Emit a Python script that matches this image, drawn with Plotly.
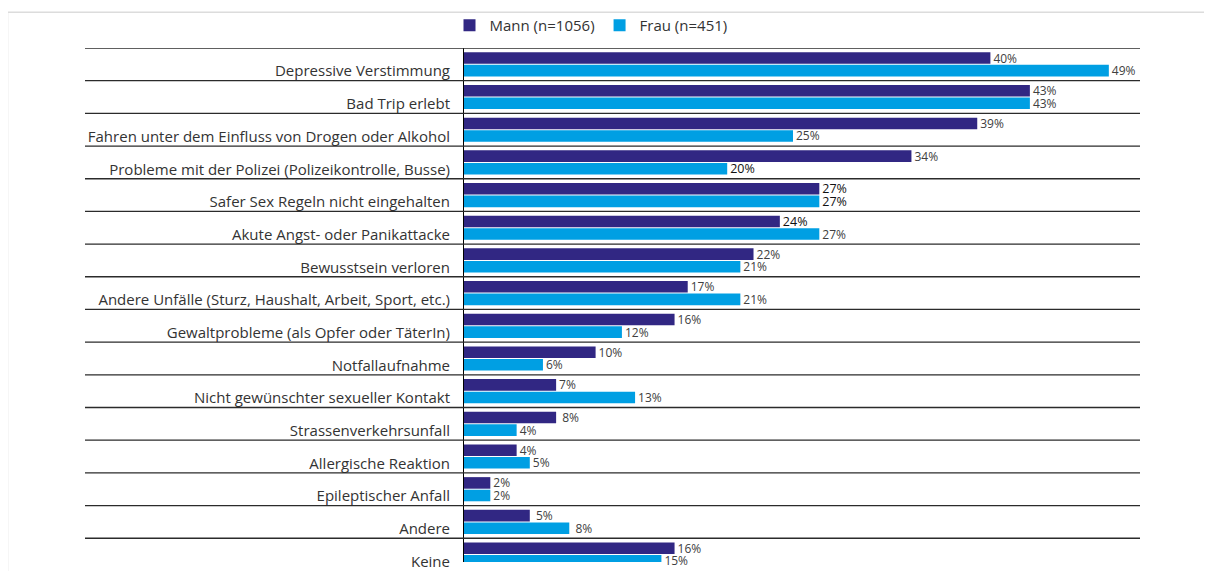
import plotly.graph_objects as go

categories = [
    "Depressive Verstimmung",
    "Bad Trip erlebt",
    "Fahren unter dem Einfluss von Drogen oder Alkohol",
    "Probleme mit der Polizei (Polizeikontrolle, Busse)",
    "Safer Sex Regeln nicht eingehalten",
    "Akute Angst- oder Panikattacke",
    "Bewusstsein verloren",
    "Andere Unfälle (Sturz, Haushalt, Arbeit, Sport, etc.)",
    "Gewaltprobleme (als Opfer oder TäterIn)",
    "Notfallaufnahme",
    "Nicht gewünschter sexueller Kontakt",
    "Strassenverkehrsunfall",
    "Allergische Reaktion",
    "Epileptischer Anfall",
    "Andere",
    "Keine",
]
mann = [40, 43, 39, 34, 27, 24, 22, 17, 16, 10, 7, 7, 4, 2, 5, 16]
frau = [49, 43, 25, 20, 27, 27, 21, 21, 12, 6, 13, 4, 5, 2, 8, 15]
mann_labels = ["40%", "43%", "39%", "34%", "27%", "24%", "22%", "17%", "16%",
               "10%", "7%", " 8%", "4%", "2%", " 5%", "16%"]
frau_labels = ["49%", "43%", "25%", "20%", "27%", "27%", "21%", "21%", "12%",
               "6%", "13%", "4%", "5%", "2%", " 8%", "15%"]
# labels drawn darker/larger in the reference
mann_dark = [False, False, False, False, True, True, False, False, False,
             False, False, False, False, False, False, False]
frau_dark = [False, False, False, True, True, False, False, False, False,
             False, False, False, False, False, False, False]
series_names = ["Mann (n=1056)", "Frau (n=451)"]

C_MANN = "#312783"
C_FRAU = "#009FE3"
FONT = "Open Sans"

# the page body adds an 8px offset; compensate
OFF = 8
W, H = 1212 - OFF, 571 - OFF
L, R, T, B = 464 - OFF, 72, 48 - OFF, 0
plot_w = W - L - R
plot_h = H - T - B

pos = list(range(len(categories)))


def tcolors(flags):
    return ["#111111" if f else "#404040" for f in flags]


def tsizes(flags):
    return [12.5 if f else 12 for f in flags]


fig = go.Figure()
fig.add_trace(go.Bar(
    y=pos, x=mann, orientation="h", name=series_names[0],
    marker=dict(color=C_MANN, line=dict(width=0)),
    text=mann_labels, textposition="outside", constraintext="none",
    cliponaxis=False,
    textfont=dict(family=FONT, size=tsizes(mann_dark), color=tcolors(mann_dark)),
    hoverinfo="x+name",
))
fig.add_trace(go.Bar(
    y=pos, x=frau, orientation="h", name=series_names[1],
    marker=dict(color=C_FRAU, line=dict(width=0)),
    text=frau_labels, textposition="outside", constraintext="none",
    cliponaxis=False,
    textfont=dict(family=FONT, size=tsizes(frau_dark), color=tcolors(frau_dark)),
    hoverinfo="x+name",
))

px_per_unit = 33.0
shapes = []
x0_sep = (85 - OFF - L) / plot_w
for i in range(len(categories) + 1):
    shapes.append(dict(type="line", xref="paper", yref="y",
                       x0=x0_sep, x1=1.0, y0=i - 0.5, y1=i - 0.5,
                       line=dict(color="#2b2b2b", width=1.3)))
# container frame (top and left)
fx0 = (7.5 - OFF - L) / plot_w
fx1 = (W - L) / plot_w
fy = (H - (11.5 - OFF) - B) / plot_h
shapes.append(dict(type="line", xref="paper", yref="paper",
                   x0=fx0, x1=fx1, y0=fy, y1=fy,
                   line=dict(color="#dcdcdc", width=1.5)))
shapes.append(dict(type="line", xref="paper", yref="paper",
                   x0=fx0, x1=fx0, y0=fy, y1=-0.02,
                   line=dict(color="#dcdcdc", width=1.5)))

y_bottom = -0.5 + (plot_h - 4) / px_per_unit
x_max = plot_w / 13.16

fig.update_layout(
    width=W, height=H,
    margin=dict(l=L, r=R, t=T, b=B, pad=0),
    paper_bgcolor="white", plot_bgcolor="white",
    barmode="group", bargap=0.23, bargroupgap=0.08,
    font=dict(family=FONT, color="#333333"),
    showlegend=True,
    legend=dict(orientation="h", x=(591 - OFF - L) / plot_w, xanchor="center",
                y=(H - (25 - OFF) - B) / plot_h, yanchor="middle",
                font=dict(family=FONT, size=15, color="#333333"),
                itemwidth=30, traceorder="normal", bgcolor="rgba(0,0,0,0)"),
    xaxis=dict(range=[0, x_max], showgrid=False, zeroline=False,
               showticklabels=False, showline=False, fixedrange=True),
    yaxis=dict(range=[y_bottom, -0.5], showgrid=False, zeroline=False,
               tickmode="array", tickvals=[p + 0.21 for p in pos],
               ticktext=categories, ticks="", ticklabelstandoff=10,
               ticklabeloverflow="allow",
               tickfont=dict(family=FONT, size=15, color="#333333"),
               showline=True, linecolor="#000000", linewidth=1,
               fixedrange=True),
    shapes=shapes,
)

fig.write_html("out.html")
